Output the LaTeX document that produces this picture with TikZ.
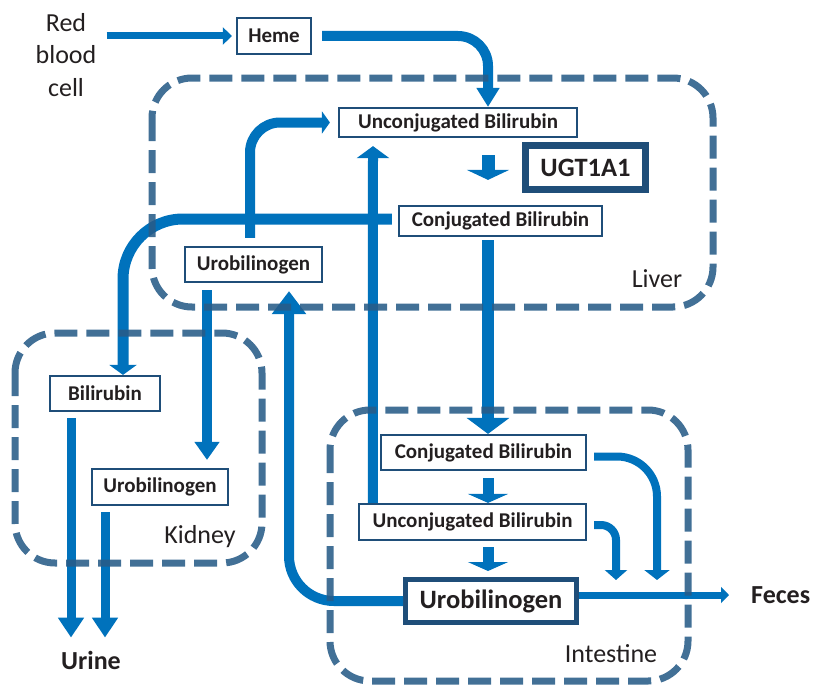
\documentclass[tikz,border=0pt]{standalone}
\usepackage{fontspec}
\setmainfont{Carlito}
\usetikzlibrary{arrows.meta}
\definecolor{flowblue}{RGB}{0,114,188}
\definecolor{organblue}{RGB}{40,92,136}
\definecolor{boxblue}{RGB}{31,78,121}
\definecolor{textgray}{RGB}{35,31,32}

\begin{document}
\begin{tikzpicture}[x=1pt,y=-1pt,
    box/.style={draw=boxblue,line width=2.2pt,fill=white,inner sep=0pt,text=textgray,
      font=\bfseries\fontsize{21}{24}\selectfont},
    bigbox/.style={box,line width=5pt,font=\bfseries\fontsize{26.5}{30}\selectfont},
    organ/.style={draw=organblue,line width=7pt,dash pattern=on 23pt off 9pt,
      rounded corners=40pt,opacity=0.88},
    organlabel/.style={anchor=base,inner sep=0pt,text=textgray,font=\fontsize{26}{30}\selectfont},
    endlabel/.style={inner sep=0pt,text=textgray,font=\bfseries\fontsize{26}{30}\selectfont},
    flow/.style={draw=flowblue,line width=10pt},
    step arrow/.style={flow,line width=11pt,-{Triangle[length=9pt,width=40pt]}}]
  \useasboundingbox (0,0) rectangle (813,685);

  % texts
  \node[align=center,inner sep=0pt,text=textgray,font=\fontsize{26}{32.5}\selectfont] (rbc) at (66,55) {Red\\blood\\cell};
  \node[endlabel,anchor=base] (urine) at (91,669) {Urine};
  \node[endlabel,anchor=west] (feces) at (751,595) {Feces};
  \node[organlabel] (liver) at (657,287) {Liver};
  \node[organlabel] (kidney) at (200,543) {Kidney};
  \node[organlabel] (intestine) at (611,662) {Intestine};

  % boxes
  \node[box,minimum width=74pt,minimum height=36pt] (heme) at (274,36) {Heme};
  \node[box,minimum width=238pt,minimum height=29pt] (uncL) at (458,122.5) {Unconjugated Bilirubin};
  \node[bigbox,line width=7pt,minimum width=120pt,minimum height=44pt] (ugt) at (585.5,167.5) {UGT1A1};
  \node[box,minimum width=203pt,minimum height=30pt] (conL) at (500.5,221) {Conjugated Bilirubin};
  \node[box,minimum width=137pt,minimum height=35pt] (uroL) at (253.5,264.5) {Urobilinogen};
  \node[box,minimum width=110pt,minimum height=35pt] (bilK) at (105,393.5) {Bilirubin};
  \node[box,minimum width=136pt,minimum height=36pt] (uroK) at (160,487) {Urobilinogen};
  \node[box,minimum width=205pt,minimum height=35pt] (conI) at (483.5,452.5) {Conjugated Bilirubin};
  \node[box,minimum width=227pt,minimum height=36pt] (uncI) at (472.5,522) {Unconjugated Bilirubin};
  \node[bigbox,minimum width=171pt,minimum height=43pt] (uroI) at (491,601) {Urobilinogen};

  \coordinate (joinC) at (657,580);
  \coordinate (joinU) at (616,580);
  \path ([xshift=-34pt]bilK.south) coordinate (bilOut)
        ([xshift=-55pt]uroK.south) coordinate (uroOut);

  % into the liver
  \draw[flow,line width=7pt,-{Triangle[length=9pt,width=17pt]},shorten <=10pt,shorten >=4pt] (rbc.east |- heme.west) -- (heme.west);
  \draw[flow,-{Triangle[length=19pt,width=22pt]},rounded corners=30pt] ([xshift=10pt]heme.east) -| ([xshift=30pt]uncL.north);
  \draw[flow,line width=13pt,-{Triangle[length=10pt,width=42pt]},shorten <=17pt,shorten >=25pt] ([xshift=30pt]uncL.south) -- ([xshift=-12.5pt]conL.north);
  \draw[flow,-{Triangle[length=8pt,width=22pt]},rounded corners=30pt,shorten <=8pt,shorten >=8pt] ([xshift=-3.5pt]uroL.north) |- (uncL.west);

  % out of the liver
  \draw[flow,line width=11pt,-{Triangle[length=10pt,width=27pt]},rounded corners=60pt,shorten <=6pt] ([yshift=2pt]conL.west) -| ([xshift=18pt]bilK.north);
  \draw[flow,line width=12pt,-{Triangle[length=16pt,width=42pt]},shorten <=3pt] ([xshift=-12.5pt]conL.south) -- ([xshift=4.5pt]conI.north);
  \draw[flow,-{Triangle[length=18pt,width=24pt]},shorten <=7pt,shorten >=8pt] ([xshift=-46.5pt]uroL.south) -- ([xshift=47pt]uroK.north);

  % kidney
  \draw[flow,line width=9pt,-{Triangle[length=20pt,width=25pt]},shorten <=6pt,shorten >=13pt] (bilOut) -- (bilOut |- urine.north);
  \draw[flow,line width=9pt,-{Triangle[length=20pt,width=25pt]},shorten <=6pt,shorten >=13pt] (uroOut) -- (uroOut |- urine.north);

  % intestine
  \draw[step arrow,shorten <=7pt] ([xshift=4.5pt]conI.south) -- ([xshift=15.5pt]uncI.north);
  \draw[step arrow,shorten <=6pt,shorten >=6pt] ([xshift=15.5pt]uncI.south) -- ([xshift=-3pt]uroI.north);
  \draw[flow,-{Triangle[length=12pt,width=32pt]},shorten >=8pt] ([xshift=15pt]uncI.north west) -- ([xshift=-85pt]uncL.south);
  \draw[flow,-{Triangle[length=23pt,width=33pt]},rounded corners=45pt,shorten >=8pt] (uroI.west) -| ([xshift=35.5pt]uroL.south);
  \draw[flow,line width=8pt,-{Triangle[length=10pt,width=25pt]},rounded corners=40pt,shorten <=7pt] ([yshift=-4pt]conI.east) -| (joinC);
  \draw[flow,line width=8pt,-{Triangle[length=10pt,width=22pt]},rounded corners=15pt,shorten <=7pt] ([yshift=-3pt]uncI.east) -| (joinU);
  \draw[flow,line width=7pt,-{Triangle[length=8pt,width=16pt]},shorten >=22pt] (uroI.east |- feces.west) -- (feces.west);

  % organs
  \draw[organ] (152,78) rectangle (713,307);
  \draw[organ] (15,333) rectangle (262,563);
  \draw[organ] (330,410) rectangle (688,681);
\end{tikzpicture}
\end{document}
